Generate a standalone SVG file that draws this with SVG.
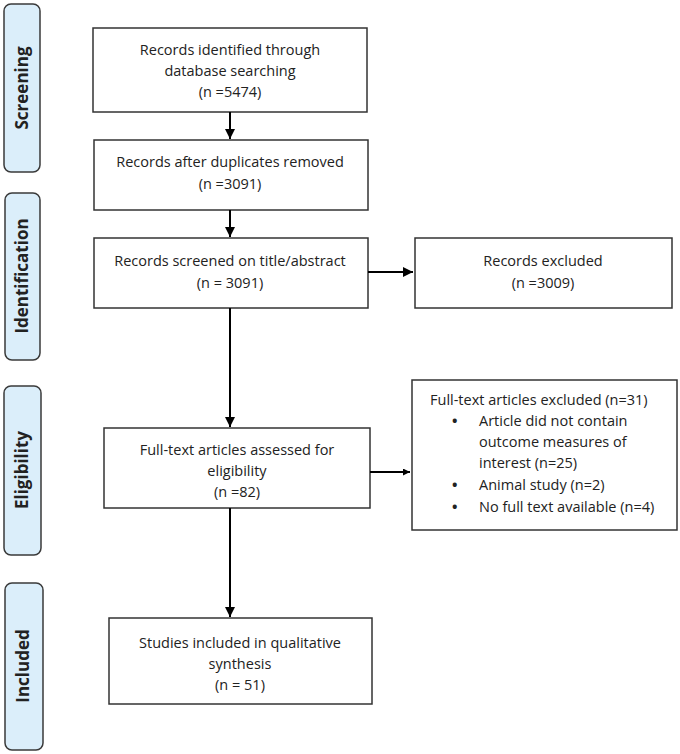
<svg xmlns="http://www.w3.org/2000/svg" width="680" height="754" viewBox="0 0 680 754">
<defs>
<style>
.box{fill:#fff;stroke:#333;stroke-width:1.5}
.lab{fill:#dbeefa;stroke:#3a3a3a;stroke-width:1.5}
.t{font-family:"Open Sans","Liberation Sans",sans-serif;font-size:14.5px;fill:#222;text-anchor:middle}
.tl{font-family:"Open Sans","Liberation Sans",sans-serif;font-size:14.5px;fill:#222}
.s{font-family:"Open Sans","Liberation Sans",sans-serif;font-size:17px;font-weight:bold;fill:#222;text-anchor:middle}
.c{stroke:#000;stroke-width:2;fill:none}
</style>
<marker id="a" viewBox="0 0 10 10" refX="10" refY="5" markerWidth="5" markerHeight="5" orient="auto" markerUnits="strokeWidth"><path d="M0,0L10,5L0,10z" fill="#000"/></marker>
<marker id="b" viewBox="0 0 10 10" refX="10" refY="5" markerWidth="3.5" markerHeight="3.5" orient="auto" markerUnits="strokeWidth"><path d="M0,0L10,5L0,10z" fill="#000"/></marker>
</defs>
<rect width="680" height="754" fill="#fff"/>
<g id="screening"><rect class="lab" x="4" y="4" width="36" height="168" rx="7"/><text class="s" transform="translate(28,88) rotate(-90)">Screening</text></g>
<g id="identification"><rect class="lab" x="5" y="193" width="35" height="167" rx="7"/><text class="s" transform="translate(28,276) rotate(-90)">Identification</text></g>
<g id="eligibility"><rect class="lab" x="4" y="386" width="37" height="169" rx="7"/><text class="s" transform="translate(28,470) rotate(-90)">Eligibility</text></g>
<g id="included"><rect class="lab" x="5" y="583" width="38" height="167" rx="7"/><text class="s" transform="translate(29,666) rotate(-90)">Included</text></g>
<g id="n1"><rect class="box" x="93" y="28" width="274" height="84"/><text class="t" x="230" y="55">Records identified through</text><text class="t" x="230" y="76">database searching</text><text class="t" x="230" y="97">(n =5474)</text></g>
<g id="n2"><rect class="box" x="94" y="140" width="274" height="70"/><text class="t" x="230" y="167">Records after duplicates removed</text><text class="t" x="230" y="189">(n =3091)</text></g>
<g id="n3"><rect class="box" x="94" y="238" width="274" height="70"/><text class="t" x="230" y="266">Records screened on title/abstract</text><text class="t" x="230" y="288">(n = 3091)</text></g>
<g id="n4"><rect class="box" x="415" y="238" width="257" height="70"/><text class="t" x="543" y="266">Records excluded</text><text class="t" x="543" y="288">(n =3009)</text></g>
<g id="n5"><rect class="box" x="104" y="428" width="266" height="80"/><text class="t" x="237" y="455">Full-text articles assessed for</text><text class="t" x="237" y="476">eligibility</text><text class="t" x="237" y="497">(n =82)</text></g>
<g id="n6"><rect class="box" x="412" y="380" width="265" height="150"/><text class="tl" x="430" y="405">Full-text articles excluded (n=31)</text>
<text class="tl" x="452" y="426" font-weight="bold">•</text><text class="tl" x="479" y="426">Article did not contain</text><text class="tl" x="479" y="447">outcome measures of</text><text class="tl" x="479" y="468">interest (n=25)</text>
<text class="tl" x="452" y="490" font-weight="bold">•</text><text class="tl" x="479" y="490">Animal study (n=2)</text>
<text class="tl" x="452" y="512" font-weight="bold">•</text><text class="tl" x="479" y="512">No full text available (n=4)</text></g>
<g id="n7"><rect class="box" x="109" y="618" width="263" height="86"/><text class="t" x="240" y="648">Studies included in qualitative</text><text class="t" x="240" y="669">synthesis</text><text class="t" x="240" y="690">(n = 51)</text></g>
<g id="connectors">
<line class="c" x1="230" y1="112" x2="230" y2="139" marker-end="url(#a)"/>
<line class="c" x1="230" y1="210" x2="230" y2="237" marker-end="url(#a)"/>
<line class="c" x1="368" y1="272" x2="413" y2="272" marker-end="url(#a)"/>
<line class="c" x1="230" y1="308" x2="230" y2="427" marker-end="url(#a)"/>
<line class="c" x1="370" y1="472" x2="410" y2="472" stroke-width="3" marker-end="url(#b)"/>
<line class="c" x1="230" y1="508" x2="230" y2="617" marker-end="url(#a)"/>
</g>
</svg>
